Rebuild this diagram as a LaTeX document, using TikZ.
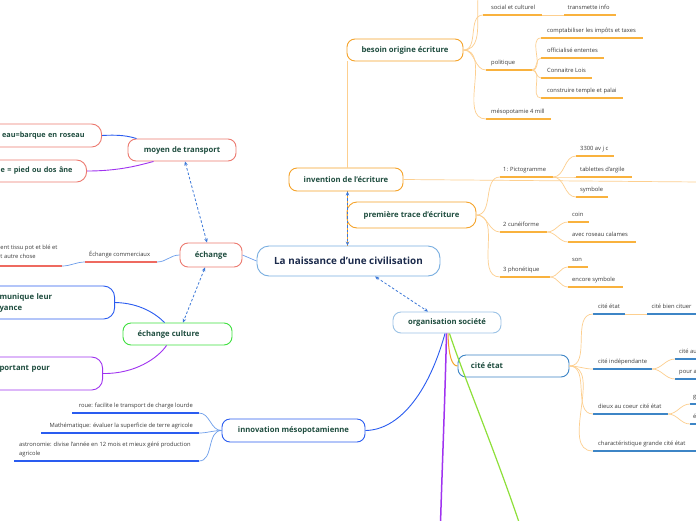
\documentclass[tikz,border=0pt]{standalone}
\usepackage{fontspec}
\setmainfont{Open Sans}
\usetikzlibrary{calc,arrows.meta}
\definecolor{orB}{HTML}{F5A32A}
\definecolor{orU}{HTML}{F9B23E}
\definecolor{orT}{HTML}{FDCF8F}
\definecolor{textG}{HTML}{1F4D3F}
\definecolor{navy}{HTML}{1C2B4C}
\definecolor{blueL}{HTML}{78AEE0}
\definecolor{blueO}{HTML}{9CC3E6}
\definecolor{blueC}{HTML}{3D85C6}
\definecolor{relc}{HTML}{3C78D8}
\definecolor{blueI}{HTML}{2A5CF0}
\definecolor{blueT}{HTML}{6D9EEB}
\definecolor{redB}{HTML}{EC7A70}
\definecolor{redU}{HTML}{EE6A60}
\definecolor{purp}{HTML}{A033F0}
\definecolor{greenB}{HTML}{3FE03F}
\definecolor{greenL}{HTML}{8EE03A}
\definecolor{txt}{HTML}{3A3A3A}
\tikzset{
  box/.style={draw, rounded corners=8pt, fill=white, line width=0.9pt,
    font=\fontsize{7.7}{11}\selectfont\bfseries, text=textG, inner sep=0pt, align=center},
  ul/.style={line width=1.5pt},
  leaft/.style={font=\fontsize{5.8}{9.5}\selectfont, text=txt, inner sep=0pt},
  thinc/.style={line width=0.7pt},
  rel/.style={draw=relc, dash pattern=on 2.5pt off 2pt, line width=0.8pt,
    {Stealth[length=4pt,width=3.5pt]}-{Stealth[length=4pt,width=3.5pt]}},
}
\newcommand\lf[7]{%
  \coordinate (#1-s) at (#2,#4);
  \coordinate (#1-e) at (#3,#4);
  \draw[ul,#5] (#1-s) -- (#1-e);
  \node[leaft,anchor=base west] (#1) at ($(#1-s)+(#6,-5.5)$) {#7};}
\newcommand\lfr[7]{%
  \coordinate (#1-s) at (#2,#4);
  \coordinate (#1-e) at (#3,#4);
  \draw[ul,#5] (#1-s) -- (#1-e);
  \node[leaft,anchor=base east] (#1) at ($(#1-e)+(-#6,-5.5)$) {#7};}
\begin{document}
\begin{tikzpicture}[x=1pt,y=-1pt]
\useasboundingbox (0,0) rectangle (696,520);
\clip (0,0) rectangle (696,520);
\fill[white] (0,0) rectangle (696,520);

% helper coordinates
\coordinate (vx) at (347.5,0);
\coordinate (offtop) at (492,-20);
\coordinate (offr) at (700,182);
\coordinate (offp) at (440,540);
\coordinate (offg) at (525,540);

% ---------- main nodes ----------
\node[box, draw=blueL, minimum width=183pt, minimum height=30pt, rounded corners=12pt,
  font=\fontsize{9.9}{11}\selectfont\bfseries, text=navy] (central) at (348.5,261) {La naissance d'une civilisation};
\node[box, draw=orB, minimum width=114pt, minimum height=23pt] (inv) at (346,179.5) {invention de l'écriture};
\node[box, draw=orB, minimum width=129pt, minimum height=26pt, rounded corners=10pt] (prem) at (411.5,215) {première trace d'écriture};
\node[box, draw=orB, minimum width=116pt, minimum height=22pt] (besoin) at (405,50) {besoin origine écriture};
\node[box, draw=blueO, minimum width=108pt, minimum height=21pt] (org) at (447,322.5) {organisation société};
\node[box, draw=blueC, minimum width=111pt, minimum height=22pt] (cite) at (513.5,366) {cité état\hspace{53pt}};
\node[box, draw=blueI, minimum width=143pt, minimum height=23pt] (innov) at (293.5,430.5) {innovation mésopotamienne};
\node[box, draw=redB, minimum width=62pt, minimum height=24pt] (ech) at (211,255) {échange};
\node[box, draw=redB, minimum width=108pt, minimum height=22pt] (moyen) at (182,150) {moyen de transport};
\node[box, draw=greenB, minimum width=109pt, minimum height=22pt] (cult) at (177.5,334) {échange culture\hspace{18pt}};

% left cut-off boxes
\node[box, draw=redB, text width=150pt, align=right, anchor=east, minimum height=23pt, inner xsep=17pt, rounded corners=10pt, font=\fontsize{7.3}{11}\selectfont\bfseries] (eau) at (102,135.5) {eau=barque en roseau};
\node[box, draw=redB, text width=150pt, align=right, anchor=east, minimum height=22pt, inner xsep=14pt, rounded corners=10pt, font=\fontsize{7.3}{11}\selectfont\bfseries] (pied) at (87,171) {e = pied ou dos âne};
\node[box, draw=blueI, text width=101pt, align=left, anchor=east, minimum height=33pt, inner xsep=14pt, rounded corners=11pt] (mun) at (115,302.5) {munique leur\\yance};
\node[box, draw=purp, text width=89pt, align=left, anchor=east, minimum height=33pt, inner xsep=14pt, rounded corners=11pt] (port) at (103,373.5) {portant pour\\\mbox{}};

% ---------- leaves: besoin origine ----------
\lf{soc}{483}{542}{15}{orU}{8}{social et culturel}
\lf{trans}{564}{616}{15}{orU}{3.5}{transmette info}
\lf{pol}{486}{532}{70}{orU}{5}{politique}
\lf{compt}{541}{643}{38}{orU}{6}{comptabiliser les impôts et taxes}
\lf{offi}{541}{604}{58}{orU}{6}{officialisé ententes}
\lf{lois}{541}{592}{78}{orU}{6}{Connaitre Lois}
\lf{temple}{541}{623}{98}{orU}{6}{construire temple et palai}
\lf{meso}{486}{551}{119}{orU}{5}{mésopotamie 4 mill}

% ---------- leaves: premiere trace ----------
\lf{picto}{500}{553}{177}{orU}{3}{1: Pictogramme}
\lf{av}{576}{614}{156}{orU}{4}{3300 av j c}
\lf{tab}{576}{632}{177}{orU}{4}{tablettes d'argile}
\lf{sym}{576}{608}{197}{orU}{4}{symbole}
\lf{cun}{500}{547}{232}{orU}{3}{2 cunéiforme}
\lf{coin}{568}{589}{222}{orU}{4}{coin}
\lf{avec}{568}{636}{242}{orU}{4}{avec roseau calames}
\lf{phon}{500}{550}{277}{orU}{3}{3 phonétique}
\lf{son}{568}{588}{267}{orU}{4}{son}
\lf{enc}{568}{623}{287}{orU}{4}{encore symbole}

% ---------- leaves: cite etat ----------
\lf{ce}{593}{625}{314}{blueC}{5}{cité état}
\lf{bien}{647}{700}{314}{blueC}{4.5}{cité bien cituer}
\lf{indep}{593}{652}{369}{blueC}{5}{cité indépendante}
\lf{au}{675}{700}{359}{blueC}{4}{cité au}
\lf{pour}{675}{700}{379}{blueC}{4}{pour a}
\lf{dieux}{593}{668}{414}{blueC}{5}{dieux au coeur cité état}
\lf{gg}{690}{700}{404}{blueC}{3}{g}
\lf{ee}{690}{700}{424}{blueC}{3}{é}
\lf{charac}{593}{700}{451}{blueC}{5}{charactéristique grande cité état}

% ---------- leaves: innovation ----------
\lfr{roue}{72}{199}{413}{blueI}{6}{roue: facilite le transport de charge lourde}
\lfr{math}{41}{199}{433}{blueI}{6}{Mathématique: évaluer la superficie de terre agricole}
\coordinate (astro-s) at (14,461);
\coordinate (astro-e) at (199,461);
\draw[ul,blueI] (astro-s) -- (astro-e);
\node[leaft,anchor=north west,align=left] (astro) at (19,441.5) {astronomie: divise l'année en 12 mois et mieux géré production\\agricole};

% ---------- leaves: echange ----------
\lf{ecom}{85}{157}{262}{redU}{4}{Échange commerciaux}
\coordinate (ech2-s) at (-5,266);
\coordinate (ech2-e) at (62,266);
\draw[ul,redU] (ech2-s) -- (ech2-e);
\node[leaft,anchor=north west,align=left] (ech2) at (0.3,244.5) {ent tissu pot et blé et\\t autre chose};

% ---------- connectors ----------
\begin{scope}[thinc, draw=orT]
  \draw (besoin.east) to[out=0,in=180] (offtop);
  \draw (besoin.east) to[out=0,in=180] (soc-s);
  \draw (besoin.east) to[out=0,in=180] (pol-s);
  \draw (besoin.east) to[out=0,in=180] (meso-s);
  \draw (soc-e) -- (trans-s);
  \foreach \c in {compt,offi,lois,temple} \draw (pol-e) to[out=0,in=180] (\c-s);
  \foreach \c in {picto,cun,phon} \draw (prem.east) to[out=0,in=180] (\c-s);
  \foreach \c in {av,tab,sym} \draw (picto-e) to[out=0,in=180] (\c-s);
  \foreach \c in {coin,avec} \draw (cun-e) to[out=0,in=180] (\c-s);
  \foreach \c in {son,enc} \draw (phon-e) to[out=0,in=180] (\c-s);
  \foreach \c in {ce,indep,dieux,charac} \draw (cite.east) to[out=0,in=180] (\c-s);
  \draw (ce-e) -- (bien-s);
  \foreach \c in {au,pour} \draw (indep-e) to[out=0,in=180] (\c-s);
  \foreach \c in {gg,ee} \draw (dieux-e) to[out=0,in=180] (\c-s);
  \draw (inv.east) -- (offr);
  \draw (besoin.south -| vx) -- (inv.north -| vx);
\end{scope}
\draw[orB, line width=1.6pt] (inv.south -| vx) -- (central.north -| vx);
\draw[rel] (inv.south -| vx) -- (central.north -| vx);

% organisation branches
\draw[orB, line width=1pt] ($(org.south)+(1,0)$) .. controls (448.5,356) and (452,366) .. (cite.west);
\draw[blueI, line width=0.9pt] ($(org.south)+(-2,0)$) .. controls (428,395) and (398,430) .. (innov.east);
\draw[purp, line width=1.5pt] ($(org.south)+(-0.5,0)$) .. controls (445,400) and (442,470) .. (offp);
\draw[greenL, line width=1.2pt] ($(org.south)+(2.5,0)$) .. controls (463,375) and (497,455) .. (offg);
\draw[rel] ($(central.south)+(26.5,0)$) -- ($(org.north)+(-19,0)$);

% innovation leaves and echange links
\begin{scope}[thinc, draw=blueT]
  \foreach \c in {roue,math,astro} \draw (innov.west) to[out=180,in=0] (\c-e);
  \draw (ech.east) -- (central.west);
  \draw (ech.west) to[out=180,in=0] (ecom-e);
  \draw (ecom-s) to[out=180,in=0] (ech2-e);
\end{scope}

% left side
\draw[blueI, line width=0.9pt] (eau.east) .. controls (120,134.5) and (128,136) .. ($(moyen.north west)+(9,0)$);
\draw[purp, line width=0.9pt] (pied.east) .. controls (120,171) and (140,165) .. ($(moyen.south west)+(26,0)$);
\draw[blueI, line width=0.9pt] (mun.east) .. controls (140,303) and (156,314) .. ($(cult.north west)+(42,0)$);
\draw[purp, line width=0.9pt] (port.east) .. controls (135,374) and (158,358) .. ($(cult.south west)+(44,0)$);
\draw[rel] ($(moyen.south)+(3,0)$) -- ($(ech.north)+(-4,0)$);
\draw[rel] ($(ech.south)+(-6,0)$) -- ($(cult.north)+(5.5,0)$);
\end{tikzpicture}
\end{document}
